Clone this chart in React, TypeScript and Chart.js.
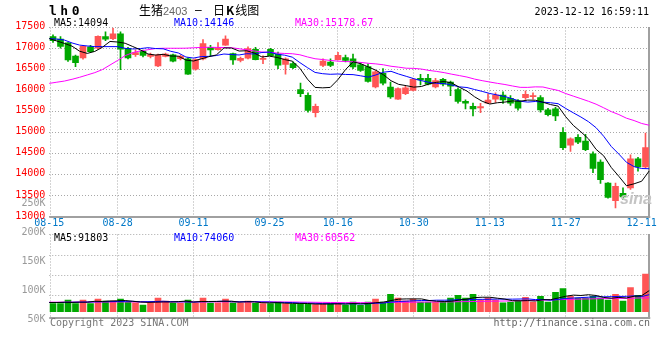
import React, { useEffect, useRef } from 'react';
import { Chart, registerables } from 'chart.js';

Chart.register(...registerables);

// ---------------- data ----------------
const DATES = [
  '08-15','08-16','08-17','08-18','08-21','08-22','08-23','08-24','08-25','08-28',
  '08-29','08-30','08-31','09-01','09-04','09-05','09-06','09-07','09-08','09-11',
  '09-12','09-13','09-14','09-15','09-18','09-19','09-20','09-21','09-22','09-25',
  '09-26','09-27','09-28','10-09','10-10','10-11','10-12','10-13','10-16','10-17',
  '10-18','10-19','10-20','10-23','10-24','10-25','10-26','10-27','10-30','10-31',
  '11-01','11-02','11-03','11-06','11-07','11-08','11-09','11-10','11-13','11-14',
  '11-15','11-16','11-17','11-20','11-21','11-22','11-23','11-24','11-27','11-28',
  '11-29','11-30','12-01','12-04','12-05','12-06','12-07','12-08','12-11','12-12',
];

const OPEN = [
  17282,17225,17133,16823,16777,17041,17007,17282,17236,17351,
  17007,16857,16938,16811,16586,16816,16853,16761,16754,16508,
  16754,17030,16972,17082,16880,16720,16770,16984,16743,16984,
  16869,16623,16646,16026,15888,15475,16600,16678,16738,16788,
  16754,16616,16570,16088,16410,16088,15797,15927,16003,16295,
  16295,16088,16272,16203,16026,15744,15629,15590,15705,15797,
  15898,15820,15760,15836,15859,15836,15544,15567,15009,14704,
  14894,14802,14497,14304,13808,13386,13563,13693,14382,14189,
];
const HIGH = [
  17328,17282,17144,16846,17070,17075,17300,17397,17489,17397,
  17030,16972,16961,16892,16869,16892,16869,16846,16777,16754,
  17213,17075,17144,17305,16892,16800,17041,17030,16830,17007,
  16915,16777,16685,16180,15950,15682,16754,16754,16908,16846,
  16869,16662,16639,16478,16524,16203,16065,16111,16295,16387,
  16387,16295,16295,16226,16065,15783,15705,15698,15927,15950,
  15973,15882,15790,15996,15950,15882,15583,15606,15124,14878,
  14956,14963,14550,14359,13815,13808,13693,14474,14419,14993,
];
const LOW = [
  17144,17007,16697,16570,16750,16915,16984,17190,17213,16501,
  16754,16811,16800,16777,16570,16800,16685,16731,16387,16485,
  16731,16830,16961,17075,16623,16685,16754,16731,16639,16823,
  16524,16393,16524,15859,15491,15376,16570,16570,16731,16685,
  16524,16456,16203,16065,16134,15813,15790,15904,15996,16134,
  16134,16065,16111,15882,15705,15567,15399,15475,15698,15721,
  15698,15652,15537,15790,15797,15491,15399,15285,14596,14557,
  14740,14573,14052,13799,13448,13218,13409,13654,14091,14159,
];
const CLOSE = [
  17190,17052,16731,16662,17052,16926,17289,17225,17351,16984,
  16777,16903,16834,16857,16853,16869,16701,16816,16394,16738,
  17121,16968,17018,17225,16731,16765,17000,16738,16765,16830,
  16605,16754,16547,15927,15530,15629,16701,16600,16839,16720,
  16563,16478,16219,16449,16180,15852,16049,16065,16272,16256,
  16157,16242,16157,16104,15744,15705,15567,15622,15774,15898,
  15783,15705,15583,15911,15882,15544,15429,15399,14649,14855,
  14779,14596,14153,13884,13464,13730,13478,14382,14189,14649,
];

const MA5 = [
  17236,17179,17121,17057,16937,16885,16932,17031,17169,17155,
  17125,17048,16970,16871,16845,16863,16823,16819,16727,16704,
  16754,16807,16848,17014,17013,16941,16948,16892,16800,16820,
  16788,16738,16700,16533,16273,16077,16067,16077,16260,16498,
  16685,16640,16564,16486,16378,16236,16150,16119,16084,16099,
  16160,16198,16217,16183,16081,15990,15855,15748,15682,15713,
  15729,15756,15749,15776,15773,15725,15670,15633,15381,15175,
  15022,14856,14606,14453,14175,13965,13742,13788,13849,14094,
];
const MA10 = [
  17236,17225,17202,17133,17082,17062,17046,17046,17046,17046,
  17005,16990,17000,17020,17000,16994,16935,16895,16799,16774,
  16809,16815,16834,16870,16858,16848,16878,16870,16907,16916,
  16865,16843,16796,16666,16546,16433,16403,16389,16396,16385,
  16381,16353,16321,16373,16438,16460,16395,16341,16285,16238,
  16198,16174,16168,16133,16090,16075,16027,15983,15933,15897,
  15860,15806,15749,15729,15743,15727,15713,15691,15578,15474,
  15374,15263,15120,14917,14675,14494,14299,14197,14151,14146,
];
const MA30 = [
  16173,16201,16228,16270,16318,16373,16428,16501,16609,16717,
  16832,16903,16945,16972,17000,17007,17007,17007,17009,17018,
  17027,17030,17027,17025,17020,16995,16970,16942,16917,16912,
  16893,16883,16877,16852,16801,16758,16739,16718,16701,16692,
  16685,16671,16650,16636,16614,16580,16558,16533,16529,16513,
  16481,16457,16428,16391,16358,16323,16275,16238,16205,16174,
  16146,16111,16079,16078,16090,16087,16045,16005,15932,15870,
  15810,15748,15679,15593,15503,15432,15346,15290,15221,15178.67,
];

const VOLUME = [
  35700,35700,50400,35700,50400,35700,54600,46200,46200,54600,
  41200,39100,29400,39100,58800,46200,37800,37800,50400,37800,
  58800,37800,39100,54600,39100,37800,46200,37800,35700,35700,
  42000,35700,33600,33600,33600,30700,34900,35700,36500,29400,
  42000,28100,42000,54600,42000,75600,58800,47500,54600,42000,
  42000,42000,42000,58800,71400,58800,75600,50400,58800,50400,
  39100,42000,47500,63000,42000,67200,42000,84000,100800,67200,
  58800,58800,67200,58800,50400,75600,46200,105000,71400,163800,
];
const VOL_MA5 = [
  40000,40000,41000,40500,41600,41600,45400,44500,46600,47500,
  48600,45400,42100,40700,41500,42500,42300,43900,46200,42000,
  44500,44500,44800,45600,45900,41700,43300,43100,39300,38600,
  39500,37400,36500,36100,35700,33400,33300,33700,34300,33400,
  35700,34400,35600,39200,41700,48500,54600,55700,55700,55700,
  49000,45600,44500,45400,51200,54600,61300,63000,63000,58800,
  54900,48100,47500,48400,46700,52300,52300,59600,67200,72200,
  70600,73900,70600,62200,58800,62200,59600,67200,69700,91803,
];
const VOL_MA10 = [
  40000,40000,40500,41000,41500,42000,43000,43500,44000,44500,
  45100,45400,43300,43600,44500,45500,43800,43000,43400,41700,
  43500,43400,44400,45900,43900,43100,43900,43900,42500,42300,
  40600,40400,39800,37700,37200,36500,35300,35100,35200,34600,
  34600,33800,34700,36800,37600,42100,44500,45700,47500,48700,
  48700,50100,50100,50500,53500,51800,53500,53800,54200,55000,
  54700,54700,55300,55700,52800,53600,50200,53600,57800,59500,
  61400,63100,65100,64700,65500,66400,66800,68900,65900,74060,
];
const VOL_MA30 = [
  41500,41600,41800,41700,41900,42000,42200,42300,42400,42500,
  42600,42600,42500,42500,42700,42800,42800,42800,42900,42800,
  43000,43000,42900,43000,43000,42900,43000,42900,42800,42800,
  42600,42400,42200,41800,41400,41000,40600,40200,39800,39500,
  39600,39400,39500,39800,40000,40600,41000,41200,41500,41800,
  42100,42400,42700,43100,43600,44000,44500,45000,45600,46100,
  46600,47200,47900,48700,49400,50300,51100,52200,53300,54400,
  55100,55700,56300,56900,57400,58000,58500,59200,59800,60562,
];

const PRICE_TICKS = [13000, 13500, 14000, 14500, 15000, 15500, 16000, 16500, 17000, 17500];
const VOL_TICKS = [250000, 200000, 150000, 100000, 50000];
const VOL_TICK_LABELS = ['250K', '200K', '150K', '100K', '50K'];
const X_LABEL_INDEX = [0, 9, 19, 29, 38, 48, 58, 68, 78];
const GRID_INDEX = [9, 19, 29, 38, 48, 58, 68];

const CODE = 'lh0';
const NAME = '生猪';
const CONTRACT = '2403';
const KIND_A = '日';
const KIND_K = 'K';
const KIND_B = '线图';
const TIMESTAMP = '2023-12-12 16:59:11';
const COPYRIGHT = 'Copyright 2023 SINA.COM';
const SITE = 'http://finance.sina.com.cn';

// ---------------- layout / style ----------------
const CANVAS_W = 660;
const CANVAS_H = 360;
const AREA = { left: 49.25, right: 649.25, top: 17.5, bottom: 318.5 };
const PRICE_PANEL_BOTTOM = 213.5;
const VOL_PANEL_TOP = 234.5;
const VOL_ZERO_Y = 311.5;
const VOL_UNITS_PER_PX = 4200;
const VOL_LABEL_UNITS_PER_PX = 1000 / 0.6;

const MONO = "'DejaVu Sans Mono', monospace";
const UP_COLOR = '#ff5555';
const DOWN_COLOR = '#00a800';
const GRID_COLOR = '#a8a8a8';
const FRAME_COLOR = '#a0a0a0';

const priceTop = PRICE_TICKS[PRICE_TICKS.length - 1];
const priceBottom = PRICE_TICKS[0];
const pricePerPx = (priceTop - priceBottom) / (PRICE_PANEL_BOTTOM - AREA.top);
const priceAxisMin = priceBottom - (AREA.bottom - PRICE_PANEL_BOTTOM) * pricePerPx;
const volAxisMin = -(AREA.bottom - VOL_ZERO_Y) * VOL_UNITS_PER_PX;
const volAxisMax = (VOL_ZERO_Y - AREA.top) * VOL_UNITS_PER_PX;
const volLabelMin = VOL_TICKS[VOL_TICKS.length - 1];
const volLabelMax = volLabelMin + (AREA.bottom - AREA.top) * VOL_LABEL_UNITS_PER_PX;

const panelsPlugin = {
  id: 'panels',
  beforeDatasetsDraw(chart: any) {
    const { ctx, chartArea: a, scales } = chart;
    const xg = scales.xg;
    const yP = scales.yP;
    const pTop = Math.floor(yP.getPixelForValue(priceTop)) + 0.5;
    const pBot = yP.getPixelForValue(priceBottom);
    const vTop = Math.floor(VOL_PANEL_TOP) + 0.5;
    const vBot = a.bottom;
    const line = (x1: number, y1: number, x2: number, y2: number) => {
      ctx.beginPath();
      ctx.moveTo(x1, y1);
      ctx.lineTo(x2, y2);
      ctx.stroke();
    };
    ctx.save();
    ctx.strokeStyle = GRID_COLOR;
    ctx.lineWidth = 1;
    ctx.setLineDash([1, 2]);
    for (const i of GRID_INDEX) {
      const x = Math.floor(xg.getPixelForValue(i)) + 0.5;
      line(x, pTop, x, pBot);
      line(x, vTop, x, vBot);
    }
    for (let k = 0; k < 4; k++) {
      const y = vTop + (k === 0 ? 0 : 1 + 20 * k);
      line(a.left, y, a.right, y);
    }
    const lx = Math.ceil(a.left) + 0.5;
    line(lx, pTop, lx, pBot);
    line(lx, vTop, lx, vBot);
    ctx.setLineDash([]);
    ctx.strokeStyle = FRAME_COLOR;
    ctx.lineWidth = 2;
    const rx = Math.floor(a.right);
    line(rx, pTop - 0.5, rx, Math.round(pBot) + 1);
    line(rx, vTop - 0.5, rx, Math.floor(vBot) + 1);
    line(a.left, Math.round(pBot), a.right + 1, Math.round(pBot));
    line(a.left, Math.floor(vBot), a.right + 1, Math.floor(vBot));
    ctx.restore();
  },
};

const text = (extra: any) => ({
  position: 'absolute' as const,
  fontFamily: MONO,
  fontSize: 10,
  lineHeight: '12px',
  whiteSpace: 'pre' as const,
  ...extra,
});

export default function App() {
  const ref = useRef<HTMLCanvasElement>(null);

  useEffect(() => {
    const canvas = ref.current;
    if (!canvas) return;
    const colors = DATES.map((_, i) => (CLOSE[i] >= OPEN[i] ? UP_COLOR : DOWN_COLOR));
    const bodies = DATES.map((_, i) => [OPEN[i], CLOSE[i]]);
    const wicks = DATES.map((_, i) => [LOW[i], HIGH[i]]);

    const lineDs = (label: string, data: number[], color: string, yAxisID: string) => ({
      type: 'line' as const,
      label,
      data,
      xAxisID: 'xg',
      yAxisID,
      borderColor: color,
      backgroundColor: color,
      borderWidth: 1,
      pointRadius: 0,
      tension: 0,
      fill: false,
      order: 0,
    });

    const chart = new Chart(canvas, {
      type: 'bar',
      data: {
        labels: DATES,
        datasets: [
          lineDs('MA5', MA5, '#000000', 'yP'),
          lineDs('MA10', MA10, '#0000ff', 'yP'),
          lineDs('MA30', MA30, '#ff00ff', 'yP'),
          lineDs('VMA5', VOL_MA5, '#000000', 'yVb'),
          lineDs('VMA10', VOL_MA10, '#0000ff', 'yVb'),
          lineDs('VMA30', VOL_MA30, '#ff00ff', 'yVb'),
          {
            type: 'bar',
            label: 'wick',
            data: wicks as any,
            xAxisID: 'x',
            yAxisID: 'yP',
            backgroundColor: colors,
            barThickness: 1,
            grouped: false,
            borderWidth: 0,
            order: 2,
          },
          {
            type: 'bar',
            label: 'body',
            data: bodies as any,
            xAxisID: 'x',
            yAxisID: 'yP',
            backgroundColor: colors,
            barThickness: 6,
            minBarLength: 1,
            grouped: false,
            borderWidth: 0,
            order: 1,
          },
          {
            type: 'bar',
            label: 'volume',
            data: VOLUME,
            xAxisID: 'x',
            yAxisID: 'yVb',
            backgroundColor: colors,
            barThickness: 6,
            grouped: false,
            borderWidth: 0,
            order: 1,
          },
        ] as any,
      },
      options: {
        responsive: false,
        animation: false,
        devicePixelRatio: 1,
        events: [],
        layout: {
          padding: {
            left: 0,
            top: AREA.top,
            right: CANVAS_W - AREA.right,
            bottom: CANVAS_H - AREA.bottom,
          },
        },
        plugins: {
          legend: { display: false },
          tooltip: { enabled: false },
          title: { display: false },
        },
        scales: {
          x: { type: 'category', display: false, offset: true },
          xg: {
            type: 'category',
            axis: 'x',
            offset: false,
            position: { yP: priceBottom } as any,
            grid: { display: false, drawTicks: false, offset: false },
            border: { display: false },
            ticks: {
              autoSkip: false,
              maxRotation: 0,
              minRotation: 0,
              padding: 0,
              color: '#0078c8',
              font: { family: MONO, size: 10 },
            },
            afterBuildTicks: (s: any) => {
              s.ticks = X_LABEL_INDEX.map((v) => ({ value: v }));
            },
          },
          yP: {
            type: 'linear',
            position: 'left',
            weight: 0,
            min: priceAxisMin,
            max: priceTop,
            bounds: 'data',
            beginAtZero: false,
            grid: { color: GRID_COLOR, drawTicks: false, lineWidth: 1 },
            border: { display: false, dash: [1, 2] },
            ticks: {
              color: '#ff0000',
              padding: 4,
              labelOffset: -1,
              font: { family: MONO, size: 10 },
              callback: (v: any) => String(v),
            },
            afterBuildTicks: (s: any) => {
              s.ticks = PRICE_TICKS.map((v) => ({ value: v }));
            },
            afterFit: (s: any) => {
              s.width = AREA.left;
            },
          },
          yVL: {
            type: 'linear',
            position: 'left',
            weight: 1,
            min: volLabelMin,
            max: volLabelMax,
            bounds: 'data',
            beginAtZero: false,
            grid: { display: false, drawTicks: false },
            border: { display: false },
            ticks: {
              mirror: true,
              padding: 21.5,
              labelOffset: 1,
              color: '#999999',
              font: { family: MONO, size: 10 },
              callback: (_v: any, idx: number) => VOL_TICK_LABELS[idx].padStart(4, ' '),
            },
            afterBuildTicks: (s: any) => {
              s.ticks = VOL_TICKS.map((v) => ({ value: v }));
            },
            afterFit: (s: any) => {
              s.width = 0;
            },
          },
          yVb: {
            type: 'linear',
            display: false,
            min: volAxisMin,
            max: volAxisMax,
            bounds: 'data',
            beginAtZero: false,
          },
        },
      } as any,
      plugins: [panelsPlugin],
    });
    return () => chart.destroy();
  }, []);

  const last = (arr: number[]) => arr[arr.length - 1];

  return (
    <div
      style={{
        position: 'fixed',
        left: 0,
        top: 0,
        width: CANVAS_W,
        height: CANVAS_H,
        background: '#ffffff',
        overflow: 'hidden',
      }}
    >
      <canvas
        ref={ref}
        width={CANVAS_W}
        height={CANVAS_H}
        style={{ position: 'absolute', left: 0, top: 0, width: CANVAS_W, height: CANVAS_H }}
      />
      <div style={text({ left: 49, top: 3, fontSize: 13, lineHeight: '15px', fontWeight: 'bold', letterSpacing: '3.5px', color: '#000' })}>
        {CODE}
      </div>
      <div style={text({ left: 139, top: 3, fontFamily: "'Noto Sans CJK SC', sans-serif", fontSize: 12, lineHeight: '14px', color: '#000' })}>
        {NAME}
      </div>
      <div style={text({ left: 163, top: 4, fontFamily: "'Liberation Sans', sans-serif", fontSize: 11, lineHeight: '14px', color: '#666' })}>
        {CONTRACT}
      </div>
      <div style={text({ left: 195, top: 3, fontFamily: "'Liberation Sans', sans-serif", fontSize: 12, lineHeight: '14px', color: '#000' })}>
        {'–'}
      </div>
      <div style={text({ left: 213, top: 3, fontFamily: "'Noto Sans CJK SC', sans-serif", fontSize: 12, lineHeight: '14px', color: '#000' })}>
        {KIND_A}
        <span style={{ fontWeight: 'bold', margin: '0 1px' }}>{KIND_K}</span>
        {KIND_B}
      </div>
      <div style={text({ right: 11, top: 6, color: '#000' })}>{TIMESTAMP}</div>

      <div style={text({ left: 54, top: 17, color: '#000' })}>{`MA5:${last(MA5)}`}</div>
      <div style={text({ left: 174, top: 17, color: '#0000ff' })}>{`MA10:${last(MA10)}`}</div>
      <div style={text({ left: 295, top: 17, color: '#ff00ff' })}>{`MA30:${last(MA30)}`}</div>

      <div style={text({ left: 54, top: 232, color: '#000' })}>{`MA5:${last(VOL_MA5)}`}</div>
      <div style={text({ left: 174, top: 232, color: '#0000ff' })}>{`MA10:${last(VOL_MA10)}`}</div>
      <div style={text({ left: 295, top: 232, color: '#ff00ff' })}>{`MA30:${last(VOL_MA30)}`}</div>

      <div style={text({ left: 620, top: 190, fontFamily: "'Liberation Sans', sans-serif", fontSize: 16, lineHeight: '18px', fontStyle: 'italic', fontWeight: 'bold', color: '#c4c4c4' })}>
        sina
      </div>

      <div style={text({ left: 50, top: 317, color: '#777' })}>{COPYRIGHT}</div>
      <div style={text({ right: 10, top: 317, color: '#666' })}>{SITE}</div>
    </div>
  );
}
